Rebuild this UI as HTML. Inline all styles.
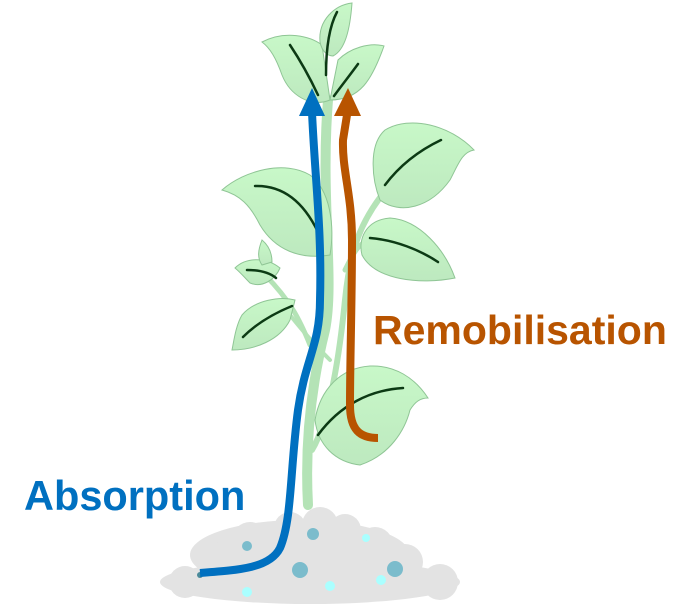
<!DOCTYPE html>
<html><head><meta charset="utf-8"><style>
html,body{margin:0;padding:0;background:#fff;width:697px;height:606px;overflow:hidden}
svg{display:block}
</style></head><body>
<svg width="697" height="606" viewBox="0 0 697 606" xmlns="http://www.w3.org/2000/svg">
<defs>
<linearGradient id="lg" x1="0" y1="0" x2="0" y2="1"><stop offset="0" stop-color="#c8f8c8"/><stop offset="1" stop-color="#bde9bf"/></linearGradient>
</defs>
<g fill="#e3e3e3">
<ellipse cx="310" cy="582" rx="150" ry="22"/>
<ellipse cx="300" cy="555" rx="110" ry="35"/>
<circle cx="320" cy="525" r="18"/><circle cx="290" cy="528" r="16"/><circle cx="345" cy="530" r="16"/>
<circle cx="250" cy="540" r="18"/><circle cx="375" cy="545" r="18"/><circle cx="215" cy="560" r="18"/>
<circle cx="405" cy="562" r="18"/><circle cx="185" cy="582" r="16"/><circle cx="440" cy="582" r="18"/>
</g>
<g fill="#7bbccc"><circle cx="247" cy="546" r="5"/><circle cx="313" cy="534" r="6"/><circle cx="300" cy="570" r="8"/><circle cx="395" cy="569" r="8"/><circle cx="200" cy="575" r="3" fill="#4a8a9a"/></g>
<g fill="#aaffff"><circle cx="366" cy="538" r="4"/><circle cx="330" cy="586" r="5"/><circle cx="381" cy="580" r="5"/><circle cx="247" cy="592" r="5"/></g>
<g fill="none" stroke="#b4e3b6" stroke-linecap="round">
<path d="M308,505 C305,450 310,390 325,330 C335,280 320,200 328,100" stroke-width="10"/>
<path d="M312,450 C330,420 340,350 345,300 C350,250 360,220 390,185" stroke-width="6"/>
<path d="M310,345 C300,320 290,300 265,275" stroke-width="5"/>
<path d="M330,360 C320,350 310,340 290,315" stroke-width="4"/>
<path d="M330,100 C340,90 345,85 355,70" stroke-width="5"/>
<path d="M345,270 C355,250 360,240 375,240" stroke-width="5"/>
</g>
<g fill="url(#lg)" stroke="#8fc595" stroke-width="1">
<path d="M262,42 C285,30 310,36 322,45 L330,100 C310,108 290,95 282,75 C276,58 270,48 262,42Z"/>
<path d="M352,3 C335,5 318,20 320,42 C322,52 328,56 333,56 C345,50 350,30 352,3Z"/>
<path d="M384,46 C370,42 350,48 338,60 L330,100 C360,100 372,80 384,46Z"/>
<path d="M474,150 C450,125 410,115 385,130 C368,145 372,180 380,200 C400,215 430,208 450,180 C458,165 462,152 474,150Z"/>
<path d="M222,190 C245,170 285,160 310,175 C330,190 335,225 330,255 C300,260 275,250 260,225 C250,205 240,195 222,190Z"/>
<path d="M455,278 C445,250 420,220 390,218 C365,220 358,240 362,255 C375,280 420,285 455,278Z"/>
<path d="M235,268 C245,258 265,256 280,268 C275,280 262,288 250,283 C245,278 240,272 235,268Z"/>
<path d="M262,240 C258,250 257,258 262,265 L272,262 C272,252 268,245 262,240Z"/>
<path d="M295,300 C280,296 255,300 242,315 C236,325 234,340 232,350 C255,350 280,340 290,320 Z"/>
<path d="M428,398 C415,378 395,365 370,366 C340,368 320,390 315,420 C318,445 335,462 360,465 C390,455 405,430 410,410 C415,402 420,398 428,398Z"/>
</g>
<g fill="none" stroke="#0c3a14" stroke-width="2.5" stroke-linecap="round">
<path d="M290,45 C300,60 310,78 318,95"/>
<path d="M337,12 C330,25 326,45 326,75"/>
<path d="M358,64 C350,75 342,85 334,96"/>
<path d="M441,140 C420,150 400,165 385,185"/>
<path d="M255,186 C285,185 305,205 318,232"/>
<path d="M370,238 C395,240 420,250 438,262"/>
<path d="M247,270 C260,270 270,273 276,278"/>
<path d="M243,337 C255,325 270,315 292,306"/>
<path d="M403,388 C370,390 340,405 318,435"/>
</g>
<path d="M200,573 C240,570 270,568 280,548 C292,520 290,470 298,410 C305,360 320,345 320,300 C322,230 315,180 312,112" fill="none" stroke="#0070c0" stroke-width="8"/>
<polygon points="299,116 325,116 312,88" fill="#0070c0"/>
<path d="M378,438 C360,438 350,430 350,405 C350,360 352,300 352,240 C352,195 342,170 343,140 L347,115" fill="none" stroke="#b85400" stroke-width="8"/>
<polygon points="334,116 361,116 348,88" fill="#b85400"/>
<text x="24" y="510" font-family="Liberation Sans, sans-serif" font-weight="bold" font-size="41.5" fill="#0070c0">Absorption</text>
<text x="373" y="344" font-family="Liberation Sans, sans-serif" font-weight="bold" font-size="41" fill="#b85400">Remobilisation</text>
</svg>
</body></html>
